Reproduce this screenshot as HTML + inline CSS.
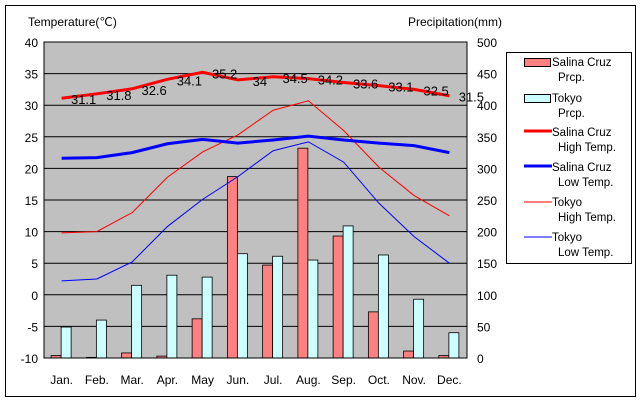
<!DOCTYPE html>
<html><head><meta charset="utf-8"><style>
body{margin:0;background:#fff;}
svg{display:block;font-family:"Liberation Sans",sans-serif;}
</style></head><body>
<svg id="chart" width="640" height="400">
<rect x="5.5" y="5.5" width="630" height="391" fill="#fff" stroke="#000"/>
<rect x="44" y="42" width="423" height="316" fill="#c0c0c0"/>
<g id="grid"></g><g id="bars"></g><g id="lines"></g><g id="labels"></g><g id="axes"></g>
<rect x="44" y="42" width="423" height="316" fill="none" stroke="#000"/>
<text x="28" y="26" font-size="12">Temperature(℃)</text>
<text x="408" y="26" font-size="12">Precipitation(mm)</text>
<g>
<rect x="506.5" y="52.5" width="125" height="211" fill="#fff" stroke="#000"/>
<g font-size="11.5">
<rect x="524.5" y="58.5" width="26" height="8" fill="#ff8080" stroke="#000"/>
<text x="552" y="66">Salina Cruz</text><text x="558" y="81">Prcp.</text>
<rect x="524.5" y="94.5" width="26" height="8" fill="#ccffff" stroke="#000"/>
<text x="552" y="102">Tokyo</text><text x="558" y="117">Prcp.</text>
<line x1="524" y1="131" x2="552" y2="131" stroke="#ff0000" stroke-width="3"/>
<text x="552" y="136">Salina Cruz</text><text x="558" y="151">High Temp.</text>
<line x1="524" y1="166" x2="552" y2="166" stroke="#0000ff" stroke-width="3"/>
<text x="552" y="171">Salina Cruz</text><text x="558" y="186">Low Temp.</text>
<line x1="524" y1="202" x2="552" y2="202" stroke="#ff0000" stroke-width="1"/>
<text x="552" y="206">Tokyo</text><text x="558" y="221">High Temp.</text>
<line x1="524" y1="237" x2="552" y2="237" stroke="#0000ff" stroke-width="1"/>
<text x="552" y="241">Tokyo</text><text x="558" y="256">Low Temp.</text>
</g></g>
</svg>
<script>
const months=["Jan.","Feb.","Mar.","Apr.","May","Jun.","Jul.","Aug.","Sep.","Oct.","Nov.","Dec."];
const salinaPrcp=[4,1,8,3,62,287,147,332,193,73,11,4];
const tokyoPrcp=[49,60,115,131,128,165,161,155,209,163,93,40];
const salinaHigh=[31.1,31.8,32.6,34.1,35.2,34,34.5,34.2,33.6,33.1,32.5,31.5];
const salinaLow=[21.6,21.7,22.5,23.9,24.6,24.0,24.5,25.1,24.5,24.0,23.6,22.5];
const tokyoHigh=[9.8,10.0,13.0,18.6,22.6,25.3,29.2,30.7,26.0,20.2,15.7,12.5];
const tokyoLow=[2.2,2.5,5.2,10.8,15.1,18.7,22.8,24.2,21.0,14.5,9.2,5.0];
const tempTicks=[40,35,30,25,20,15,10,5,0,-5,-10];
const prcpTicks=[500,450,400,350,300,250,200,150,100,50,0];
const NS="http://www.w3.org/2000/svg";
const X0=44,X1=467,Y0=42,Y1=358,cw=(X1-X0)/12;
const xc=i=>X0+cw*(i+0.5);
const yT=t=>Y1-(t+10)/50*(Y1-Y0);
const yP=p=>Y1-p/500*(Y1-Y0);
function mk(tag,attrs,parent){const e=document.createElementNS(NS,tag);for(const k in attrs)e.setAttribute(k,attrs[k]);document.getElementById(parent).appendChild(e);return e;}
tempTicks.forEach((t,i)=>{
 if(t<40&&t>-10){const l=mk("line",{x1:X0,x2:X1,y1:yT(t),y2:yT(t),stroke:"#000"},"grid");
 
 }
 const tx=mk("text",{x:38,y:yT(t)+5,"text-anchor":"end","font-size":"12"},"axes");tx.textContent=t;
 
 
});
prcpTicks.forEach(p=>{
 const tx=mk("text",{x:477,y:yP(p)+5,"font-size":"12"},"axes");tx.textContent=p;
 
 
});
months.forEach((m,i)=>{
 const tx=mk("text",{x:xc(i),y:384,"text-anchor":"middle","font-size":"12"},"axes");tx.textContent=m;
 
 
 const b1=mk("rect",{x:xc(i)-10.5,y:yP(salinaPrcp[i]),width:10,height:Y1-yP(salinaPrcp[i]),fill:"#ff8080",stroke:"#000","stroke-width":"0.8"},"bars");
 
 
 const b2=mk("rect",{x:xc(i)-0.5,y:yP(tokyoPrcp[i]),width:10,height:Y1-yP(tokyoPrcp[i]),fill:"#ccffff",stroke:"#000","stroke-width":"0.8"},"bars");
 
 
});
function line(arr,color,w,name){
 const l=mk("polyline",{points:arr.map((v,i)=>xc(i)+","+yT(v)).join(" "),fill:"none",stroke:color,"stroke-width":w},"lines");
 
 
}
line(tokyoHigh,"#ff0000",1,"line-tokyo-high");
line(tokyoLow,"#0000ff",1,"line-tokyo-low");
line(salinaLow,"#0000ff",3,"line-salina-low");
line(salinaHigh,"#ff0000",3,"line-salina-high");
salinaHigh.forEach((v,i)=>{
 const tx=mk("text",{x:xc(i)+22,y:yT(v)+6,"text-anchor":"middle","font-size":"13",fill:"#000"},"labels");tx.textContent=v;
 
 
});
</script>
</body></html>
